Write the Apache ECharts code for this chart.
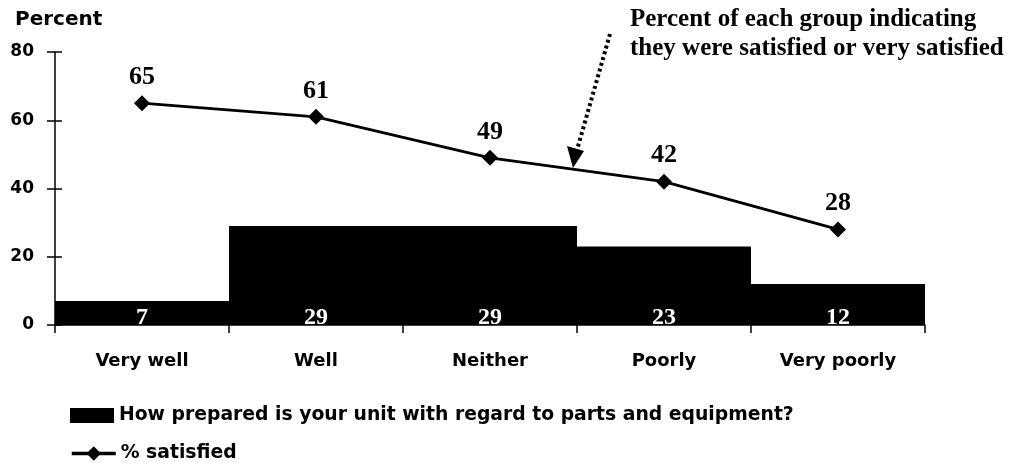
<!DOCTYPE html>
<html>
<head>
<meta charset="utf-8">
<script src="https://cdn.jsdelivr.net/npm/echarts@6/dist/echarts.min.js"></script>
<style>
  html, body { margin: 0; padding: 0; background: #fff; }
  #main { width: 1020px; height: 467px; }
</style>
</head>
<body>
<div id="main"></div>
<script>
// 分类和数据
var categories = ['Very well', 'Well', 'Neither', 'Poorly', 'Very poorly'];
var preparedValues = [7, 29, 29, 23, 12];
var satisfiedValues = [65, 61, 49, 42, 28];
var yTicks = [0, 20, 40, 60, 80];

var barName = 'How prepared is your unit with regard to parts and equipment?';
var lineName = '% satisfied';

var sans = 'DejaVu Sans, Arial, sans-serif';
var serif = 'Liberation Serif, Times New Roman, serif';
var legendText = { fontFamily: sans, fontWeight: 'bold', fontSize: 18.8, color: '#000' };

var myChart = echarts.init(document.getElementById('main'));

myChart.setOption({
  backgroundColor: '#fff',
  animation: false,
  grid: { left: 55, right: 95, top: 52, bottom: 142 },
  legend: [{
    left: 65,
    top: 401,
    itemWidth: 44,
    itemHeight: 15,
    itemGap: 2,
    textStyle: legendText,
    data: [{ name: barName, icon: 'rect', itemStyle: { color: '#000' } }]
  }, {
    left: 65,
    top: 439,
    itemWidth: 44,
    itemHeight: 18,
    lineStyle: { width: 3.5, color: '#000' },
    textStyle: legendText,
    data: [{ name: lineName }]
  }],
  xAxis: {
    type: 'category',
    data: categories,
    boundaryGap: true,
    axisLine: { lineStyle: { color: '#000', width: 1.5 } },
    axisTick: { show: true, length: 8, lineStyle: { color: '#000', width: 1.5 } },
    axisLabel: {
      margin: 27,
      fontFamily: sans,
      fontWeight: 'bold',
      fontSize: 18,
      color: '#000'
    }
  },
  yAxis: [{
    type: 'value',
    min: yTicks[0],
    max: yTicks[yTicks.length - 1],
    interval: 20,
    name: 'Percent',
    nameLocation: 'end',
    nameGap: 22,
    nameTextStyle: { fontFamily: sans, fontWeight: 'bold', fontSize: 20, color: '#000', align: 'left', padding: [0, 0, 0, -40] },
    axisLine: { show: true, lineStyle: { color: '#000', width: 1.5 } },
    axisTick: { show: true, length: 8, lineStyle: { color: '#000', width: 1.5 } },
    axisLabel: { margin: 21, fontFamily: sans, fontWeight: 'bold', fontSize: 17, color: '#000' },
    splitLine: { show: false }
  }, {
    // 内侧刻度
    type: 'value',
    position: 'left',
    min: yTicks[0],
    max: yTicks[yTicks.length - 1],
    interval: 20,
    axisLine: { show: false },
    axisTick: { show: true, inside: true, length: 7, lineStyle: { color: '#000', width: 1.5 } },
    axisLabel: { show: false },
    splitLine: { show: false }
  }],
  series: [{
    name: barName,
    type: 'bar',
    data: preparedValues,
    barCategoryGap: '0%',
    itemStyle: { color: '#000' },
    label: {
      show: true,
      position: 'insideBottom',
      distance: 0,
      offset: [0, 5],
      color: '#fff',
      fontFamily: serif,
      fontWeight: 'bold',
      fontSize: 24
    },
    z: 1
  }, {
    name: lineName,
    type: 'line',
    data: satisfiedValues,
    symbol: 'diamond',
    symbolSize: 16,
    lineStyle: { color: '#000', width: 2.8 },
    itemStyle: { color: '#000' },
    label: {
      show: true,
      position: 'top',
      distance: 5,
      color: '#000',
      fontFamily: serif,
      fontWeight: 'bold',
      fontSize: 26
    },
    z: 3
  }],
  graphic: [{
    type: 'text',
    left: 630,
    top: 5,
    style: {
      text: 'Percent of each group indicating\nthey were satisfied or very satisfied',
      font: 'bold 25px ' + serif,
      lineHeight: 29,
      fill: '#000'
    }
  }, {
    type: 'polyline',
    shape: { points: [[610, 34], [577, 150]] },
    style: { stroke: '#000', lineWidth: 4, lineDash: [3, 3], fill: null }
  }, {
    type: 'polygon',
    shape: { points: [[567, 146], [584, 151], [573, 168]] },
    style: { fill: '#000' }
  }]
});
</script>
</body>
</html>
